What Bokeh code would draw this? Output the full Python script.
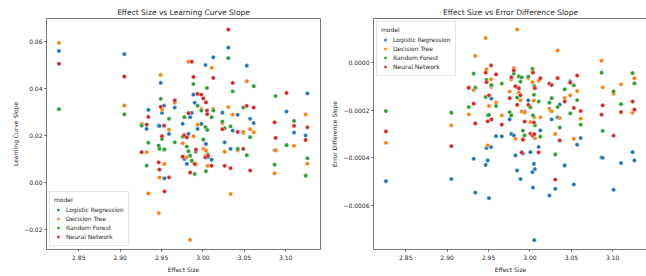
from bokeh.plotting import figure
from bokeh.layouts import row
from bokeh.models import ColumnDataSource, FixedTicker, Legend
from bokeh.embed import file_html
from bokeh.resources import INLINE

models = ["Logistic Regression", "Decision Tree", "Random Forest", "Neural Network"]
colors = ["#1f77b4", "#ff7f0e", "#2ca02c", "#d62728"]

effect_size = [
    2.826, 2.905, 2.926, 2.932, 2.934, 2.9465, 2.9475, 2.949, 2.9505, 2.953, 2.9535, 2.959, 2.966,
    2.9755, 2.9775, 2.9805, 2.9825, 2.9845, 2.9865, 2.9885, 2.990, 2.9915, 2.9935, 2.998, 3.0005,
    3.003, 3.0036, 3.0048, 3.0052, 3.006, 3.0105, 3.0125,
    3.0235, 3.0262, 3.0306, 3.0334, 3.036, 3.042,
    3.0487, 3.053, 3.057, 3.0613,
    3.0865, 3.0878, 3.101, 3.110, 3.124, 3.1262,
]

lc_logreg = [
    0.0559, 0.0545, 0.0245, 0.0227, 0.0308, 0.0241, 0.0240, 0.0423, 0.0295, 0.0326, 0.0017, 0.0206, 0.0318,
    0.0249, 0.0099, 0.0078, 0.0206, 0.0277, 0.0295, 0.0373, 0.0338, 0.0075, 0.0227, 0.0248, 0.0181,
    0.0499, 0.0163, 0.0223, 0.0120, 0.0106, 0.0096, 0.0532,
    0.0296, 0.0170, 0.0573, 0.0142, 0.0220, 0.0287,
    0.0210, 0.0496, 0.0270, 0.0252,
    0.0136, 0.0137, 0.0301, 0.0211, 0.0199, 0.0378,
]
lc_tree = [
    0.0593, 0.0326, 0.0248, 0.0128, -0.0048, -0.0131, 0.0020, 0.0457, 0.0309, 0.0077, 0.0078, 0.0224, 0.0338,
    0.0166, 0.0203, 0.0106, 0.0513, -0.0245, 0.0089, 0.0196, 0.0078, 0.0078, 0.0245, 0.0312, 0.0142,
    0.0112, 0.0135, 0.0227, 0.0070, 0.0070, 0.0487, 0.0312,
    0.0251, 0.0130, 0.0320, -0.0050, 0.0288, 0.0135,
    0.0214, 0.0430, 0.0226, 0.0213,
    0.0038, 0.0136, 0.0158, 0.0155, 0.0289, 0.0079,
]
lc_forest = [
    0.0311, 0.0289, 0.0241, 0.0071, 0.0168, 0.0156, 0.0142, 0.0355, 0.0184, 0.0139, 0.0140, 0.0270, 0.0170,
    0.0194, 0.0277, 0.0152, 0.0132, 0.0113, 0.0092, 0.0418, 0.0035, 0.0130, 0.0326, 0.0305, 0.0182,
    0.0235, 0.0047, 0.0401, 0.0223, 0.0118, 0.0277, 0.0305,
    0.0258, 0.0230, 0.0528, 0.0238, 0.0387, 0.0142,
    0.0318, 0.0115, 0.0192, 0.0409,
    0.0075, 0.0367, 0.0158, 0.0261, 0.0028, 0.0102,
]
lc_nn = [
    0.0504, 0.0450, 0.0128, 0.0245, 0.0278, 0.0085, 0.0054, 0.0321, 0.0196, 0.0241, -0.0039, 0.0021, 0.0348,
    0.0109, 0.0199, 0.0191, 0.0294, 0.0041, 0.0513, 0.0448, 0.0078, 0.0139, 0.0376, 0.0373, 0.0357,
    0.0106, 0.0340, 0.0305, 0.0290, 0.0112, 0.0070, 0.0444,
    0.0226, 0.0070, 0.0650, 0.0060, 0.0423, 0.0214,
    0.0142, 0.0325, 0.0050, 0.0318,
    0.0255, 0.0189, 0.0380, 0.0240, 0.0180, 0.0234,
]

ed_logreg = [
    -0.000498, -0.000489, -0.000108, -0.000404, -0.000546, -0.000430, -0.000359, -0.000411, -0.000569, -0.000355, -0.000152, -0.000309, -0.000310,
    -0.000239, -0.000300, -0.000306, -0.000390, -0.000453, -0.000108, -0.000489, -0.000376, -0.000382, -0.000205, -0.000159, -0.000376,
    -0.000460, -0.000525, -0.000425, -0.000745, -0.000447, -0.000354, -0.000285,
    -0.000558, -0.000239, -0.000530, -0.000230, -0.000177, -0.000432,
    -0.000080, -0.000512, -0.000345, -0.000317,
    -0.000398, -0.000400, -0.000534, -0.000422, -0.000376, -0.000411,
]
ed_tree = [
    -0.000337, -0.000264, -0.000218, -0.000116, 0.000027, 0.000102, -0.000029, -0.000348, -0.000183, -0.000071, -0.000103, -0.000169, -0.000222,
    -0.000122, -0.000071, -0.000024, -0.000320, 0.000138, -0.000127, -0.000159, -0.000206, -0.000321, -0.000210, -0.000065, -0.000250,
    -0.000083, -0.000038, -0.000160, -0.000230, -0.000318, -0.000077, -0.000230,
    -0.000194, -0.000205, -0.000300, 0.000050, -0.000233, -0.000150,
    -0.000138, -0.000320, -0.000120, -0.000236,
    0.000007, -0.000105, -0.000131, -0.000092, -0.000211, -0.000066,
]
ed_forest = [
    -0.000204, -0.000211, -0.000187, -0.000047, -0.000106, -0.000145, -0.000073, -0.000222, -0.000220, -0.000097, -0.000095, -0.000183, -0.000089,
    -0.000209, -0.000222, -0.000047, -0.000100, -0.000148, -0.000059, -0.000081, -0.000063, -0.000286, -0.000306, -0.000060, -0.000188,
    -0.000027, -0.000222, -0.000136, -0.000099, -0.000264, -0.000164, -0.000311,
    -0.000169, -0.000150, -0.000386, -0.000187, -0.000273, -0.000113,
    -0.000214, -0.000096, -0.000158, -0.000261,
    -0.000043, -0.000287, -0.000122, -0.000175, -0.000045, -0.000088,
]
ed_nn = [
    -0.000289, -0.000351, -0.000106, -0.000173, -0.000256, -0.000043, -0.000083, -0.000247, -0.000138, -0.000013, -0.000239, -0.000050, -0.000261,
    -0.000150, -0.000062, -0.000034, -0.000100, -0.000178, -0.000108, -0.000138, -0.000378, -0.000324, -0.000248, -0.000178, -0.000299,
    -0.000306, -0.000043, -0.000252, -0.000301, -0.000108, -0.000377, -0.000066,
    -0.000089, -0.000095, -0.000491, -0.000066, -0.000327, -0.000164,
    -0.000085, -0.000191, -0.000055, -0.000204,
    -0.000219, -0.000180, -0.000307, -0.000208, -0.000164, -0.000198,
]

lc_series = [lc_logreg, lc_tree, lc_forest, lc_nn]
ed_series = [ed_logreg, ed_tree, ed_forest, ed_nn]

x_ticks = [2.85, 2.90, 2.95, 3.00, 3.05, 3.10]
lc_ticks = [-0.02, 0.0, 0.02, 0.04, 0.06]
lc_tick_labels = ["\u22120.02", "0.00", "0.02", "0.04", "0.06"]
ed_ticks = [-0.0006, -0.0004, -0.0002, 0.0]
ed_tick_labels = ["\u22120.0006", "\u22120.0004", "\u22120.0002", "0.0000"]

FONT = "DejaVu Sans"
TXT = "#262626"
SMALL = "6px"


def make_fig(title, ylabel, series, yr, yticks, ylabels, legend_loc, border_left, border_right, fw):
    p = figure(
        output_backend="svg", toolbar_location=None,
        frame_width=fw, frame_height=231,
        x_range=(2.811, 3.142), y_range=yr,
        min_border_left=border_left, min_border_right=border_right,
        min_border_top=18, min_border_bottom=0,
        title=title,
    )
    p.title.align = "center"
    p.title.text_font = FONT
    p.title.text_font_size = "7.5px"
    p.title.text_font_style = "normal"
    p.title.text_color = TXT
    p.title.standoff = 4
    p.xgrid.visible = False
    p.ygrid.visible = False
    p.outline_line_color = "#777777"
    p.outline_line_width = 1
    p.background_fill_color = "white"
    p.border_fill_color = "white"

    items = []
    for name, col, vals in zip(models, colors, series):
        src = ColumnDataSource(dict(x=effect_size, y=vals))
        r = p.scatter("x", "y", source=src, size=4.3, fill_color=col,
                      line_color="white", line_width=0.4)
        items.append((name, [r]))

    for ax in (p.xaxis[0], p.yaxis[0]):
        ax.axis_line_color = None
        ax.major_tick_line_color = "#555555"
        ax.major_tick_out = 2
        ax.major_tick_in = 0
        ax.minor_tick_line_color = None
        ax.major_label_text_font = FONT
        ax.major_label_text_font_size = SMALL
        ax.major_label_text_color = TXT
        ax.major_label_standoff = 3
        ax.axis_label_text_font = FONT
        ax.axis_label_text_font_size = SMALL
        ax.axis_label_text_font_style = "normal"
        ax.axis_label_text_color = TXT
        ax.axis_label_standoff = 3

    p.xaxis[0].ticker = FixedTicker(ticks=x_ticks)
    p.xaxis[0].major_label_overrides = {t: f"{t:.2f}" for t in x_ticks}
    p.xaxis[0].axis_label = "Effect Size"
    p.yaxis[0].ticker = FixedTicker(ticks=yticks)
    p.yaxis[0].major_label_overrides = dict(zip(yticks, ylabels))
    p.yaxis[0].axis_label = ylabel
    p.yaxis[0].major_label_standoff = 2
    p.yaxis[0].axis_label_standoff = 2

    leg = Legend(items=items, location=legend_loc, title="model")
    leg.title_text_font = FONT
    leg.title_text_font_size = SMALL
    leg.title_text_font_style = "normal"
    leg.title_text_color = TXT
    leg.title_standoff = 2
    leg.label_text_font = FONT
    leg.label_text_font_size = SMALL
    leg.label_text_color = TXT
    leg.label_height = 9
    leg.glyph_height = 9
    leg.glyph_width = 8
    leg.label_standoff = 4
    leg.spacing = 0
    leg.padding = 4
    leg.margin = 3
    leg.border_line_color = "#cccccc"
    leg.border_line_width = 1
    leg.background_fill_alpha = 0.85
    p.add_layout(leg, "center")
    return p


p1 = make_fig("Effect Size vs Learning Curve Slope", "Learning Curve Slope", lc_series,
              (-0.0286, 0.0697), lc_ticks, lc_tick_labels, "bottom_left", 46, 8, 274)
p2 = make_fig("Effect Size vs Error Difference Slope", "Error Difference Slope", ed_series,
              (-0.000784, 0.000184), ed_ticks, ed_tick_labels, "top_left", 40, 2, 274)

layout = row(p1, p2)
open("out.html", "w").write(file_html(layout, INLINE))
